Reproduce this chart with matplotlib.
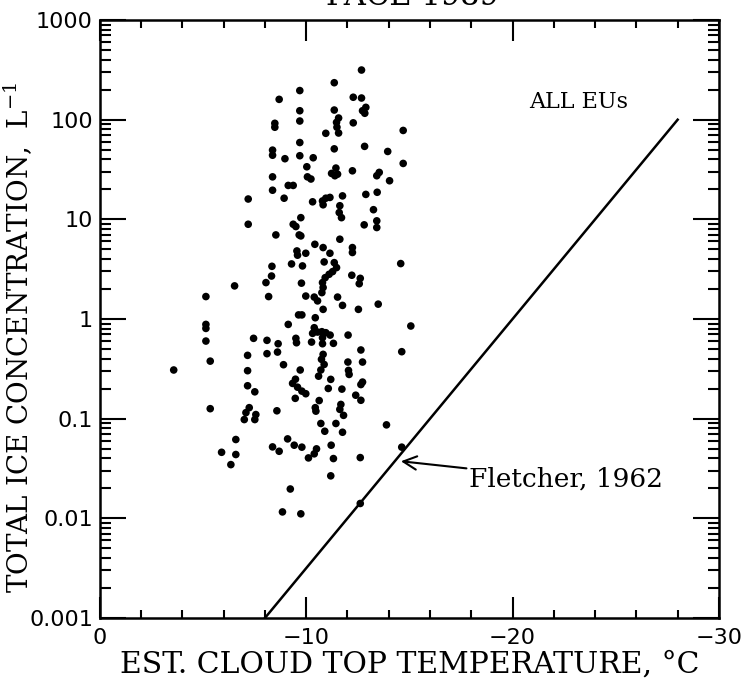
import numpy as np
import matplotlib
matplotlib.use('Agg')
import matplotlib.pyplot as plt
from matplotlib.ticker import FixedLocator, FixedFormatter, LogLocator, NullFormatter

plt.rcParams['mathtext.fontset'] = 'dejavuserif'

# estimated cloud top temperature (deg C) of each EU
temp = [
    -12.68, -11.36, -9.69, -8.69, -12.28, -12.68, -9.69, -11.36, -12.89, -12.73,
    -12.84, -11.57, -11.47, -11.49, -11.57, -9.69, -8.48, -8.48, -12.28, -10.95,
    -14.70, -9.69, -8.37, -8.37, -11.36, -12.83, -13.95, -9.69, -8.97, -10.34,
    -14.70, -10.03, -11.44, -11.23, -11.52, -11.39, -12.24, -13.54, -13.42, -14.04,
    -8.37, -10.06, -10.23, -9.13, -9.37, -8.37, -13.44, -12.89, -7.19, -8.93,
    -10.31, -10.79, -10.95, -11.15, -10.82, -11.76, -11.63, -11.60, -11.71, -13.26,
    -9.74, -7.19, -9.37, -9.50, -12.81, -13.42, -13.42, -8.53, -9.66, -9.74,
    -11.63, -10.42, -10.82, -11.15, -12.24, -12.24, -9.55, -9.58, -9.98, -8.34,
    -9.29, -9.82, -10.87, -11.36, -11.47, -11.28, -11.11, -10.92, -10.79, -10.82,
    -10.76, -14.58, -8.32, -8.05, -9.77, -12.21, -12.62, -12.57, -6.53, -5.14,
    -8.18, -9.98, -10.39, -10.55, -11.52, -10.82, -11.76, -12.53, -13.49, -9.63,
    -9.79, -10.44, -9.13, -5.14, -5.14, -15.07, -10.39, -10.31, -10.55, -10.76,
    -10.95, -11.16, -12.03, -5.14, -7.45, -8.10, -8.64, -9.50, -9.53, -10.26,
    -10.79, -10.79, -11.32, -12.65, -14.63, -7.16, -8.10, -8.61, -10.82, -10.74,
    -10.87, -12.73, -12.02, -12.05, -12.08, -5.35, -3.58, -8.90, -7.16, -9.71,
    -10.71, -10.60, -11.19, -9.48, -9.34, -9.58, -9.79, -9.98, -12.73, -12.65,
    -7.16, -7.51, -11.07, -11.73, -9.47, -12.40, -12.65, -10.63, -10.44, -10.47,
    -5.35, -8.58, -7.24, -7.08, -7.00, -7.56, -7.51, -11.68, -11.63, -11.81,
    -10.71, -10.90, -11.44, -11.76, -13.89, -6.59, -9.10, -8.37, -8.69, -9.42,
    -9.79, -10.50, -10.39, -10.11, -11.21, -5.90, -6.59, -11.32, -12.62, -6.35,
    -14.63, -11.19, -9.23, -8.85, -9.74, -12.62,
]

# total ice concentration (per litre) of each EU
conc = [
    315, 235, 196, 160, 168, 165, 123, 125, 133, 123,
    116, 104, 94, 84, 73.5, 97, 92, 84, 93, 73,
    78, 59, 49.5, 44, 51, 54, 48, 43.5, 40.6, 41.5,
    36.4, 33.7, 32.7, 28.9, 28.4, 27.4, 30.7, 29.6, 27.4, 24.4,
    26.7, 26.7, 25.4, 21.9, 21.9, 19.6, 18.7, 17.8, 16.0, 16.3,
    15.0, 15.3, 16.3, 16.6, 14.0, 17.2, 13.7, 11.7, 10.4, 12.5,
    10.4, 8.93, 8.93, 8.47, 8.81, 9.66, 8.28, 6.98, 6.98, 6.82,
    6.32, 5.62, 5.21, 4.57, 5.21, 4.65, 4.82, 4.37, 4.57, 3.38,
    3.57, 3.41, 3.74, 3.68, 3.28, 2.99, 2.81, 2.60, 2.32, 2.07,
    1.84, 3.60, 2.70, 2.32, 2.29, 2.75, 2.56, 2.26, 2.15, 1.68,
    1.68, 1.70, 1.66, 1.52, 1.66, 1.25, 1.37, 1.25, 1.41, 1.10,
    1.10, 1.03, 0.883, 0.883, 0.805, 0.851, 0.818, 0.718, 0.740, 0.746,
    0.729, 0.690, 0.690, 0.601, 0.640, 0.611, 0.565, 0.640, 0.578, 0.587,
    0.649, 0.565, 0.570, 0.489, 0.470, 0.432, 0.449, 0.466, 0.442, 0.394,
    0.350, 0.370, 0.370, 0.305, 0.278, 0.378, 0.308, 0.348, 0.303, 0.308,
    0.308, 0.267, 0.248, 0.249, 0.226, 0.207, 0.189, 0.178, 0.233, 0.220,
    0.214, 0.186, 0.201, 0.198, 0.160, 0.172, 0.153, 0.152, 0.129, 0.119,
    0.126, 0.120, 0.129, 0.115, 0.098, 0.110, 0.098, 0.139, 0.124, 0.108,
    0.0895, 0.0748, 0.0895, 0.0731, 0.0867, 0.0618, 0.0627, 0.0521, 0.0471, 0.0542,
    0.0518, 0.0498, 0.0444, 0.0404, 0.0542, 0.0460, 0.0437, 0.0398, 0.0407, 0.0346,
    0.0518, 0.0267, 0.0197, 0.0116, 0.0111, 0.0141,
]

# Fletcher (1962) ice nuclei curve
fletcher_temp = [-8, -28]
fletcher_conc = [0.001, 100]

x_ticks = [0, -10, -20, -30]
x_labels = ['0', '\u221210', '\u221220', '\u221230']
y_ticks = [0.001, 0.01, 0.1, 1, 10, 100, 1000]
y_labels = ['0.001', '0.01', '0.1', '1', '10', '100', '1000']

fig = plt.figure(figsize=(7.45, 6.98), dpi=100)
ax = fig.add_axes([0.134, 0.1146, 0.831, 0.8567])

ax.scatter(temp, conc, s=30, c='black', edgecolors='none', zorder=3)
ax.plot(fletcher_temp, fletcher_conc, color='black', lw=1.8)

ax.set_yscale('log')
ax.set_xlim(0, -30)
ax.set_ylim(0.001, 1000)

ax.xaxis.set_major_locator(FixedLocator(x_ticks))
ax.xaxis.set_major_formatter(FixedFormatter(x_labels))
ax.xaxis.set_minor_locator(FixedLocator(np.arange(0, -31, -2)))
ax.yaxis.set_major_locator(FixedLocator(y_ticks))
ax.yaxis.set_major_formatter(FixedFormatter(y_labels))
ax.yaxis.set_minor_locator(LogLocator(base=10, subs=np.arange(2, 10), numticks=20))
ax.yaxis.set_minor_formatter(NullFormatter())

for sp in ax.spines.values():
    sp.set_linewidth(1.8)

ax.tick_params(axis='both', which='both', direction='in', top=True, right=True,
               width=1.5, labelsize=16)
ax.tick_params(axis='x', which='major', length=15, pad=7)
ax.tick_params(axis='x', which='minor', length=6)
ax.tick_params(axis='y', which='major', length=19, pad=5)
ax.tick_params(axis='y', which='minor', length=8)

serif = 'DejaVu Serif'
ax.set_xlabel('EST. CLOUD TOP TEMPERATURE, \u00b0C', family=serif, fontsize=21.5, labelpad=2)
ax.set_ylabel('TOTAL ICE CONCENTRATION,  $\\mathrm{L}^{-1}$', family=serif, fontsize=20)
ax.yaxis.set_label_coords(-0.104, 0.47)

ax.text(-23.2, 150, 'ALL EUs', family=serif, fontsize=16, ha='center', va='center')
ax.annotate('Fletcher, 1962', xy=(-14.59, 0.0374), xytext=(-17.9, 0.0247),
            family=serif, fontsize=19, ha='left', va='center',
            arrowprops=dict(arrowstyle='->', color='black', lw=1.5,
                            mutation_scale=24, shrinkA=0, shrinkB=0))

fig.text(0.553, 1 - 5 / 698, 'PACE 1989', family=serif, fontsize=22,
         ha='center', va='baseline')

fig.savefig('out.png', dpi=100)
